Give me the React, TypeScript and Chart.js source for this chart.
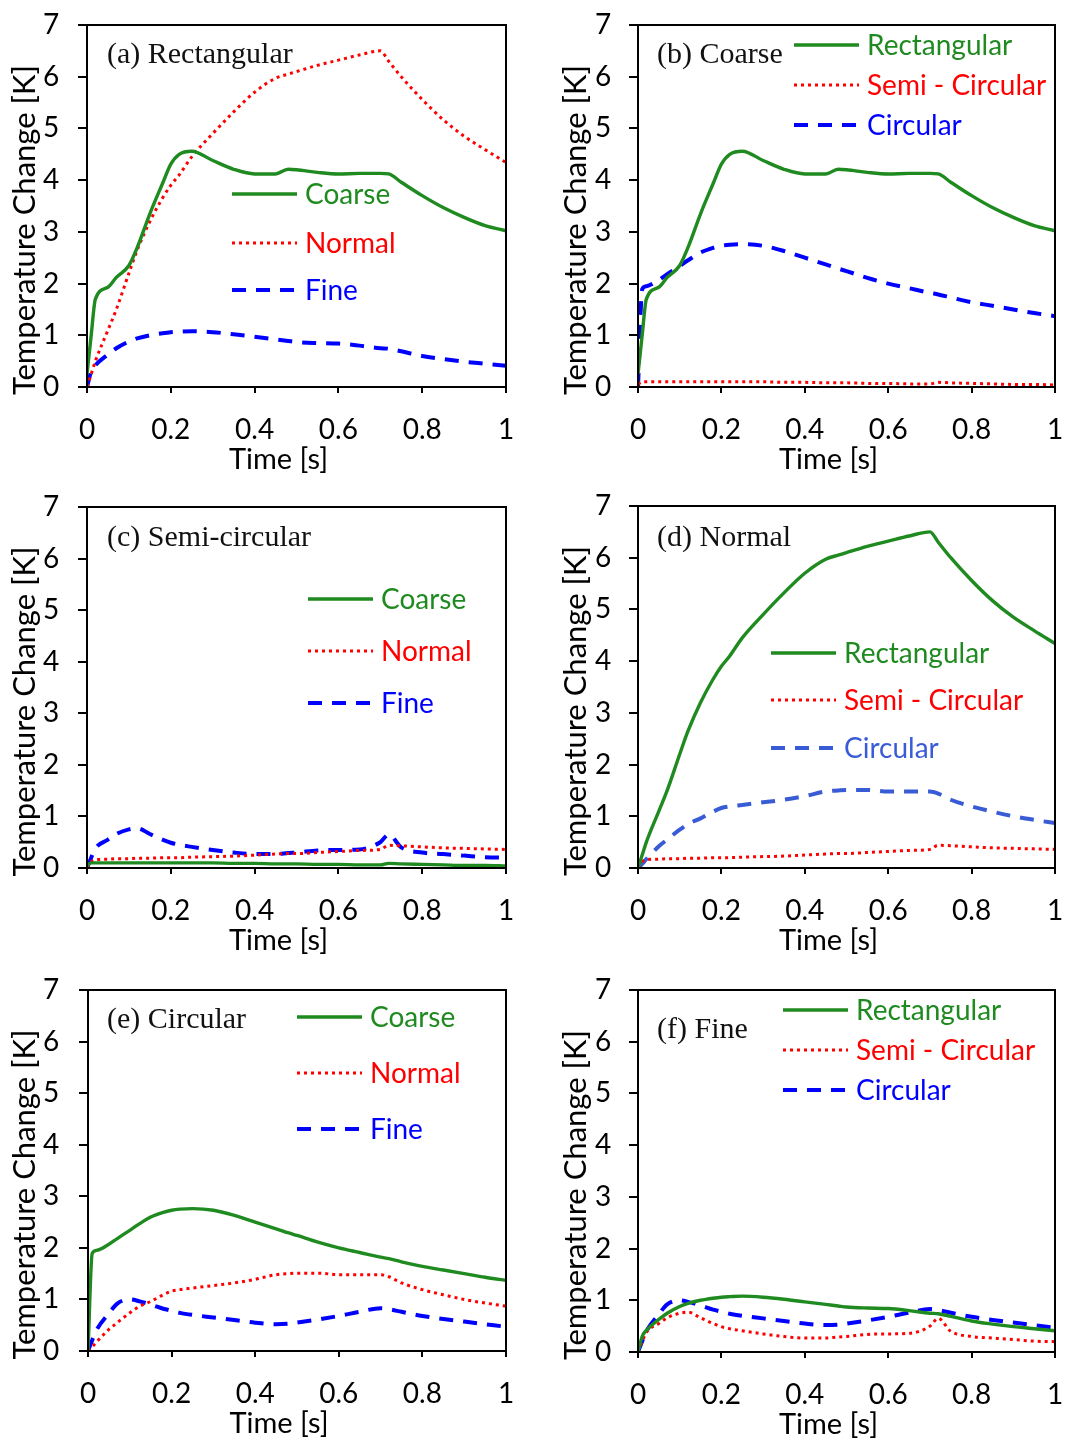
import React, { useEffect, useRef } from 'react';
import Chart from 'chart.js/auto';

// ---------- data ----------
const TIME = [0, 0.01, 0.02, 0.05, 0.07, 0.1, 0.12, 0.15, 0.18, 0.2, 0.22, 0.25, 0.3, 0.35, 0.4, 0.45, 0.48, 0.5, 0.55, 0.6, 0.65, 0.7, 0.72, 0.75, 0.8, 0.85, 0.9, 0.95, 1.0];

const RECT_COARSE = [0.25, 1.0, 1.7, 1.93, 2.12, 2.35, 2.7, 3.35, 3.93, 4.31, 4.5, 4.56, 4.38, 4.21, 4.12, 4.12, 4.21, 4.2, 4.15, 4.12, 4.13, 4.13, 4.12, 3.96, 3.7, 3.47, 3.28, 3.12, 3.02];
const RECT_NORMAL = [0, 0.25, 0.5, 1.1, 1.5, 2.2, 2.65, 3.2, 3.65, 3.9, 4.1, 4.45, 4.9, 5.32, 5.7, 5.97, 6.05, 6.1, 6.22, 6.32, 6.42, 6.5, 6.3, 6.0, 5.56, 5.17, 4.85, 4.59, 4.34];
const RECT_FINE = [0, 0.3, 0.42, 0.63, 0.75, 0.88, 0.94, 1.0, 1.04, 1.06, 1.07, 1.08, 1.06, 1.02, 0.97, 0.92, 0.89, 0.87, 0.85, 0.84, 0.8, 0.75, 0.74, 0.69, 0.6, 0.54, 0.49, 0.45, 0.41];

const SEMI_COARSE = [0.05, 0.1, 0.1, 0.1, 0.1, 0.1, 0.1, 0.1, 0.1, 0.1, 0.1, 0.1, 0.1, 0.09, 0.09, 0.08, 0.08, 0.08, 0.07, 0.07, 0.06, 0.06, 0.09, 0.08, 0.07, 0.06, 0.05, 0.05, 0.04];
const SEMI_NORMAL = [0, 0.12, 0.16, 0.17, 0.18, 0.18, 0.19, 0.19, 0.2, 0.2, 0.2, 0.21, 0.22, 0.23, 0.25, 0.27, 0.28, 0.28, 0.3, 0.32, 0.34, 0.36, 0.44, 0.43, 0.41, 0.39, 0.38, 0.37, 0.36];
const SEMI_FINE = [0, 0.2, 0.38, 0.55, 0.66, 0.75, 0.77, 0.66, 0.55, 0.49, 0.45, 0.41, 0.35, 0.3, 0.27, 0.27, 0.29, 0.3, 0.34, 0.35, 0.36, 0.5, 0.65, 0.4, 0.3, 0.27, 0.24, 0.21, 0.2];

const CIRC_COARSE = [0, 1.89, 1.95, 2.07, 2.18, 2.34, 2.45, 2.6, 2.69, 2.73, 2.75, 2.76, 2.73, 2.63, 2.5, 2.37, 2.29, 2.24, 2.11, 2.0, 1.91, 1.82, 1.79, 1.73, 1.64, 1.57, 1.5, 1.43, 1.37];
const CIRC_NORMAL = [0, 0.08, 0.17, 0.42, 0.55, 0.74, 0.85, 0.96, 1.09, 1.16, 1.19, 1.22, 1.27, 1.32, 1.39, 1.48, 1.5, 1.51, 1.51, 1.48, 1.48, 1.48, 1.44, 1.32, 1.19, 1.09, 1.0, 0.93, 0.87];
const CIRC_FINE = [0, 0.21, 0.4, 0.73, 0.92, 1.0, 0.97, 0.9, 0.82, 0.78, 0.74, 0.7, 0.65, 0.6, 0.55, 0.52, 0.53, 0.55, 0.61, 0.68, 0.76, 0.83, 0.81, 0.76, 0.68, 0.62, 0.57, 0.52, 0.47];

const X_TICK_LABELS = ['0', '0.2', '0.4', '0.6', '0.8', '1'];
const Y_TICK_LABELS = ['0', '1', '2', '3', '4', '5', '6', '7'];

const MESH_LABELS = ['Coarse', 'Normal', 'Fine'];
const SHAPE_LABELS = ['Rectangular', 'Semi - Circular', 'Circular'];

const X_TITLE = 'Time [s]';
const Y_TITLE = 'Temperature Change [K]';

// ---------- styles ----------
const GREEN = '#1f8a1f';
const RED = '#ff0000';
const BLUE = '#0000ff';
const BLUE_LIGHT = '#3a5bd6';
const SANS = 'Lato, "Open Sans", sans-serif';
const SERIF = '"Liberation Serif", "DejaVu Serif", serif';

type Style = 'solid' | 'dotted' | 'dashed';
type Series = { label: string; data: number[]; color: string; style: Style };
type Panel = {
  title: string;
  series: Series[];
  left: number; top: number; w: number; h: number;
  plot: { l: number; r: number; t: number; b: number }; // page coords
  padL: number;
  yTitleX: number;
  titleX: number; titleY: number;
  legX: number; legY: number[];
};

const STYLE: Record<Style, { width: number; dash: number[] }> = {
  solid: { width: 3.4, dash: [] },
  dotted: { width: 3, dash: [3, 4] },
  dashed: { width: 4, dash: [14, 10] },
};

const PANELS: Panel[] = [
  {
    title: '(a) Rectangular',
    series: [
      { label: MESH_LABELS[0], data: RECT_COARSE, color: GREEN, style: 'solid' },
      { label: MESH_LABELS[1], data: RECT_NORMAL, color: RED, style: 'dotted' },
      { label: MESH_LABELS[2], data: RECT_FINE, color: BLUE, style: 'dashed' },
    ],
    left: 0, top: 0, w: 535, h: 480,
    plot: { l: 87, r: 506, t: 25, b: 387 }, padL: 43, yTitleX: 25,
    titleX: 107, titleY: 55, legX: 232, legY: [194, 243, 290],
  },
  {
    title: '(b) Coarse',
    series: [
      { label: SHAPE_LABELS[0], data: RECT_COARSE, color: GREEN, style: 'solid' },
      { label: SHAPE_LABELS[1], data: SEMI_COARSE, color: RED, style: 'dotted' },
      { label: SHAPE_LABELS[2], data: CIRC_COARSE, color: BLUE, style: 'dashed' },
    ],
    left: 535, top: 0, w: 555, h: 480,
    plot: { l: 638, r: 1055, t: 25, b: 387 }, padL: 60, yTitleX: 576,
    titleX: 657, titleY: 55, legX: 794, legY: [45, 85, 125],
  },
  {
    title: '(c) Semi-circular',
    series: [
      { label: MESH_LABELS[0], data: SEMI_COARSE, color: GREEN, style: 'solid' },
      { label: MESH_LABELS[1], data: SEMI_NORMAL, color: RED, style: 'dotted' },
      { label: MESH_LABELS[2], data: SEMI_FINE, color: BLUE, style: 'dashed' },
    ],
    left: 0, top: 480, w: 535, h: 480,
    plot: { l: 87, r: 506, t: 507, b: 868 }, padL: 43, yTitleX: 25,
    titleX: 107, titleY: 538, legX: 308, legY: [599, 651, 703],
  },
  {
    title: '(d) Normal',
    series: [
      { label: SHAPE_LABELS[0], data: RECT_NORMAL, color: GREEN, style: 'solid' },
      { label: SHAPE_LABELS[1], data: SEMI_NORMAL, color: RED, style: 'dotted' },
      { label: SHAPE_LABELS[2], data: CIRC_NORMAL, color: BLUE_LIGHT, style: 'dashed' },
    ],
    left: 535, top: 480, w: 555, h: 480,
    plot: { l: 638, r: 1055, t: 506, b: 868 }, padL: 60, yTitleX: 576,
    titleX: 657, titleY: 538, legX: 771, legY: [653, 700, 748],
  },
  {
    title: '(e) Circular',
    series: [
      { label: MESH_LABELS[0], data: CIRC_COARSE, color: GREEN, style: 'solid' },
      { label: MESH_LABELS[1], data: CIRC_NORMAL, color: RED, style: 'dotted' },
      { label: MESH_LABELS[2], data: CIRC_FINE, color: BLUE, style: 'dashed' },
    ],
    left: 0, top: 960, w: 535, h: 482,
    plot: { l: 88, r: 506, t: 990, b: 1351 }, padL: 43, yTitleX: 25,
    titleX: 107, titleY: 1020, legX: 297, legY: [1017, 1073, 1129],
  },
  {
    title: '(f) Fine',
    series: [
      { label: SHAPE_LABELS[0], data: RECT_FINE, color: GREEN, style: 'solid' },
      { label: SHAPE_LABELS[1], data: SEMI_FINE, color: RED, style: 'dotted' },
      { label: SHAPE_LABELS[2], data: CIRC_FINE, color: BLUE, style: 'dashed' },
    ],
    left: 535, top: 960, w: 555, h: 482,
    plot: { l: 638, r: 1055, t: 990, b: 1352 }, padL: 60, yTitleX: 576,
    titleX: 657, titleY: 1030, legX: 783, legY: [1010, 1050, 1090],
  },
];

function PanelChart({ p }: { p: Panel }) {
  const ref = useRef<HTMLCanvasElement | null>(null);
  useEffect(() => {
    const canvas = ref.current;
    if (!canvas) return;
    const plotL = p.plot.l - p.left;
    const plotR = p.plot.r - p.left;
    const plotT = p.plot.t - p.top;
    const plotB = p.plot.b - p.top;

    const overlay = {
      id: 'overlay',
      afterDraw(chart: any) {
        const ctx = chart.ctx as CanvasRenderingContext2D;
        const a = chart.chartArea;
        ctx.save();
        // frame
        ctx.strokeStyle = '#000';
        ctx.lineWidth = 2;
        ctx.setLineDash([]);
        ctx.strokeRect(a.left, a.top, a.right - a.left, a.bottom - a.top);
        // axis titles
        ctx.fillStyle = '#000';
        ctx.textAlign = 'center';
        ctx.textBaseline = 'middle';
        ctx.font = `29px ${SANS}`;
        ctx.fillText(X_TITLE, (a.left + a.right) / 2 - 18, a.bottom + 73);
        ctx.save();
        ctx.translate(p.yTitleX - p.left, (a.top + a.bottom) / 2 + 24);
        ctx.rotate(-Math.PI / 2);
        ctx.font = `31px ${SANS}`;
        ctx.fillText(Y_TITLE, 0, 0);
        ctx.restore();
        // panel title
        ctx.fillStyle = '#111';
        ctx.font = `30px ${SERIF}`;
        ctx.textAlign = 'left';
        ctx.fillText(p.title, p.titleX - p.left, p.titleY - p.top);
        // legend
        ctx.font = `28px ${SANS}`;
        p.series.forEach((s, i) => {
          const y = p.legY[i] - p.top;
          const x0 = p.legX - p.left;
          const st = STYLE[s.style];
          ctx.strokeStyle = s.color;
          ctx.lineWidth = st.width;
          ctx.setLineDash(st.dash);
          ctx.lineCap = 'butt';
          ctx.beginPath();
          ctx.moveTo(x0, y);
          ctx.lineTo(x0 + 65, y);
          ctx.stroke();
          ctx.setLineDash([]);
          ctx.fillStyle = s.color;
          ctx.fillText(s.label, x0 + 73, y + 1);
        });
        ctx.restore();
      },
    };

    const chart = new Chart(canvas, {
      type: 'line',
      data: {
        datasets: p.series.map((s) => ({
          label: s.label,
          data: TIME.map((t, i) => ({ x: t, y: s.data[i] })),
          borderColor: s.color,
          backgroundColor: s.color,
          borderWidth: STYLE[s.style].width,
          borderDash: STYLE[s.style].dash,
          borderCapStyle: 'butt',
          pointRadius: 0,
          fill: false,
          cubicInterpolationMode: 'monotone',
        })),
      },
      options: {
        animation: false,
        responsive: false,
        maintainAspectRatio: false,
        devicePixelRatio: 1,
        layout: { padding: { left: p.padL, right: p.w - plotR, top: plotT, bottom: 0 } },
        plugins: { legend: { display: false }, tooltip: { enabled: false } },
        scales: {
          x: {
            type: 'linear',
            min: 0,
            max: 1,
            ticks: {
              stepSize: 0.2,
              color: '#000',
              font: { family: SANS, size: 28 },
              padding: 20,
              maxRotation: 0,
              callback: (_v: any, i: number) => X_TICK_LABELS[i],
            },
            grid: { drawOnChartArea: false, tickLength: 6, color: '#000', lineWidth: 2 },
            border: { color: '#000', width: 2 },
            title: { display: false },
            afterFit: (sc: any) => {
              sc.height = p.h - plotB;
            },
          },
          y: {
            type: 'linear',
            min: 0,
            max: 7,
            ticks: {
              stepSize: 1,
              color: '#000',
              font: { family: SANS, size: 28 },
              padding: 0,
              crossAlign: 'far',
              callback: (_v: any, i: number) => Y_TICK_LABELS[i],
            },
            grid: { drawOnChartArea: false, tickLength: 9, color: '#000', lineWidth: 2 },
            border: { color: '#000', width: 2 },
            title: { display: false },
            afterFit: (sc: any) => {
              sc.width = plotL - p.padL;
            },
          },
        },
      },
      plugins: [overlay],
    } as any);
    return () => chart.destroy();
  }, [p]);

  return (
    <canvas
      ref={ref}
      width={p.w}
      height={p.h}
      style={{ position: 'absolute', left: p.left, top: p.top, width: p.w, height: p.h }}
    />
  );
}

export default function App() {
  return (
    <div
      style={{
        position: 'absolute',
        left: 0,
        top: 0,
        width: 1070,
        height: 1442,
        overflow: 'hidden',
        background: '#fff',
      }}
    >
      {PANELS.map((p) => (
        <PanelChart key={p.title} p={p} />
      ))}
    </div>
  );
}
